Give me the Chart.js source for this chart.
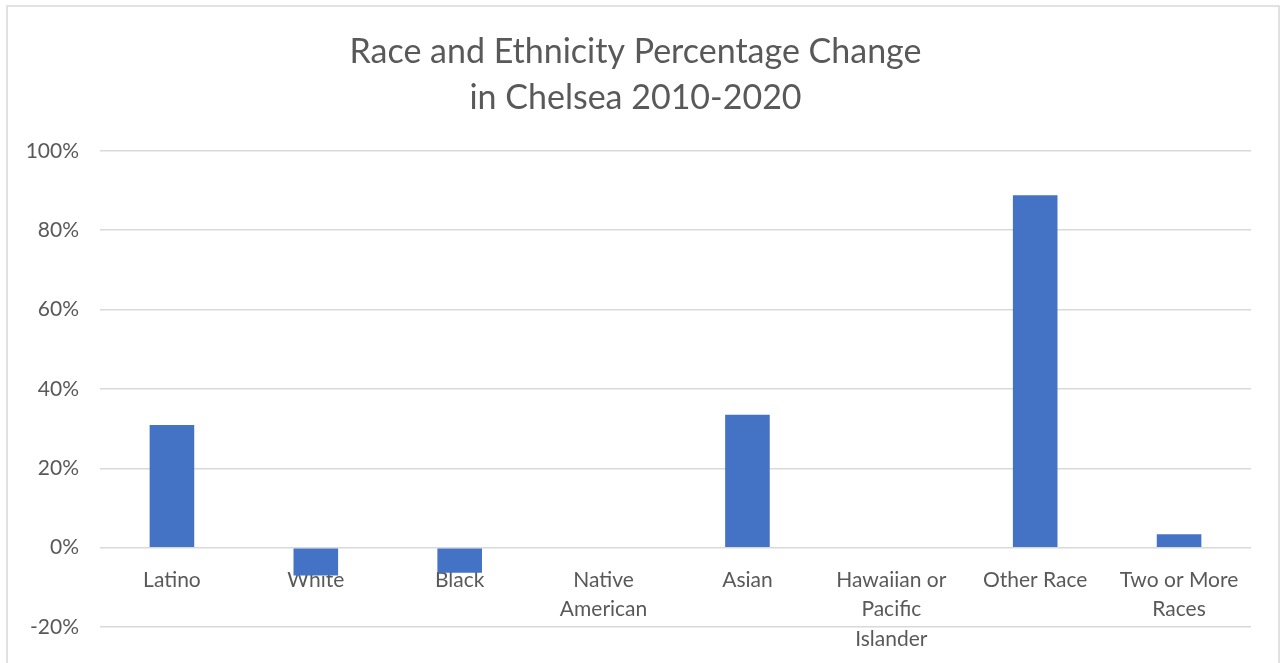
<!DOCTYPE html>
<html>
<head>
<meta charset="utf-8">
<script src="https://cdn.jsdelivr.net/npm/chart.js@4"></script>
<style>
  html, body { margin: 0; padding: 0; background: #fff; }
  #wrap { width: 1280px; height: 663px; }
</style>
</head>
<body>
<div id="wrap"><canvas id="chart" width="1280" height="663"></canvas></div>
<script>
// categories (multi-line labels are pre-wrapped)
const categories = [
    'Latino',
    'White',
    'Black',
    ['Native', 'American'],
    'Asian',
    ['Hawaiian or', 'Pacific', 'Islander'],
    'Other Race',
    ['Two or More', 'Races']
];

// percentage change 2010-2020
const changePct = [30.9, -7.0, -6.3, 0, 33.5, 0, 88.8, 3.4];

// y axis range
const yMin = -20;
const yMax = 100;
const yStep = 20;

const titleLines = ['Race and Ethnicity Percentage Change', 'in Chelsea 2010-2020'];

const textGrey = '#595959';
const gridGrey = '#d9d9d9';
const fontFamily = "Lato, 'Open Sans', sans-serif";

// outer frame around the whole chart
const framePlugin = {
    id: 'frame',
    beforeDraw(chart) {
        const ctx = chart.ctx;
        ctx.save();
        ctx.fillStyle = '#fff';
        ctx.fillRect(0, 0, chart.width, chart.height);
        ctx.strokeStyle = gridGrey;
        ctx.lineWidth = 1.5;
        ctx.strokeRect(7, 6, 1272, 720);
        ctx.restore();
    }
};

new Chart(document.getElementById('chart'), {
    type: 'bar',
    data: {
        labels: categories,
        datasets: [{
            data: changePct,
            backgroundColor: '#4472C4',
            borderWidth: 0,
            barPercentage: 0.31,
            categoryPercentage: 1
        }]
    },
    options: {
        responsive: false,
        animation: false,
        layout: { padding: { left: 20, right: 29, top: 29, bottom: 36 } },
        plugins: {
            legend: { display: false },
            tooltip: { enabled: false },
            title: {
                display: true,
                text: titleLines,
                color: textGrey,
                font: { family: fontFamily, size: 34, weight: 'normal', lineHeight: 1.35 },
                padding: { top: 0, bottom: 30 }
            }
        },
        scales: {
            x: {
                position: { y: 0 },
                grid: { display: false },
                border: { display: false },
                ticks: {
                    color: textGrey,
                    font: { family: fontFamily, size: 21, lineHeight: 1.4 },
                    padding: 10,
                    maxRotation: 0,
                    autoSkip: false
                }
            },
            y: {
                min: yMin,
                max: yMax,
                afterFit(scale) { scale.width = 80; },
                grid: { color: gridGrey, lineWidth: 1.5, drawTicks: false },
                border: { display: false },
                ticks: {
                    stepSize: yStep,
                    color: textGrey,
                    font: { family: fontFamily, size: 21 },
                    padding: 21,
                    callback: v => v + '%'
                }
            }
        }
    },
    plugins: [framePlugin]
});
</script>
</body>
</html>
